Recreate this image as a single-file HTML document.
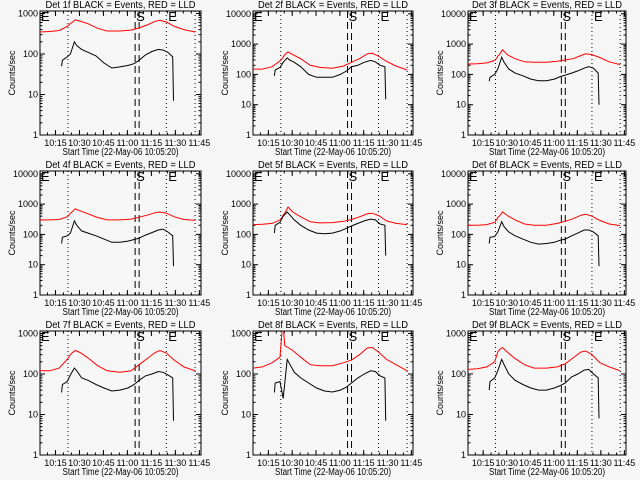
<!DOCTYPE html>
<html><head><meta charset="utf-8"><style>
html,body{margin:0;padding:0;background:#f6f6f6;}
svg{display:block;font-family:"Liberation Sans",sans-serif;}
</style></head><body>
<svg id="chart" width="640" height="480" viewBox="0 0 640 480"></svg>
<script>
const redTimes = [0,6,12,17,18.5,19,20,22,25,30,36,42,50,57,62,67,72,75,79,84,90,97];
const blackTimes = [13.5,14,17,19,21.5,23,26,30,35,40,45,50,55,59,62,66,70,74,77,80,83,83.5];
const detNames = ["1f","2f","3f","4f","5f","6f","7f","8f","9f"];
const red1 = [350,360,380,480,540,570,600,700,650,560,430,370,370,390,440,520,640,680,620,480,400,350];
const black1 = [50,70,85,100,200,160,130,110,90,60,45,48,52,58,70,95,115,130,125,110,85,7];
const red2 = [150,150,180,280,340,370,450,550,450,330,200,170,160,190,250,330,480,500,400,270,190,140];
const black2 = [90,140,170,250,350,300,250,180,100,80,80,80,100,130,180,200,250,290,260,200,180,15];
const red3 = [220,225,240,290,350,400,450,650,450,330,260,250,250,270,300,330,420,480,450,360,260,210];
const black3 = [60,80,100,150,370,250,150,110,90,70,62,62,70,85,95,110,130,160,180,160,110,10];
const red4 = [300,300,310,380,450,500,550,700,600,480,360,300,300,320,370,430,520,550,500,380,310,290];
const black4 = [50,80,90,110,280,200,130,110,90,70,55,55,60,68,75,95,115,140,150,120,90,9];
const red5 = [210,215,230,300,380,430,500,800,550,380,260,240,245,270,310,380,480,500,420,280,230,210];
const black5 = [110,200,250,400,550,450,300,200,140,110,105,110,130,160,190,230,280,320,300,220,200,20];
const red6 = [200,200,210,250,320,360,400,550,420,300,220,200,200,230,270,330,430,460,400,290,220,195];
const black6 = [50,80,85,120,260,180,120,90,70,55,48,50,55,65,70,90,110,140,140,120,90,9];
const red7 = [120,120,140,230,280,300,330,380,340,250,160,120,110,120,170,240,340,380,330,220,150,120];
const black7 = [35,55,65,95,140,120,80,70,55,45,38,40,45,55,70,90,100,115,110,95,80,7];
const red8 = [140,150,190,260,1500,1500,500,450,380,260,170,160,160,190,220,300,440,450,350,230,170,120];
const black8 = [35,60,65,25,230,180,110,80,60,45,38,36,40,48,60,80,100,120,115,90,80,7];
const red9 = [130,135,150,200,300,350,400,450,350,240,170,140,140,150,180,250,350,370,300,190,150,120];
const black9 = [40,65,80,120,230,170,100,70,55,45,40,40,45,52,60,85,100,125,130,100,80,8];
const redSeries = [red1,red2,red3,red4,red5,red6,red7,red8,red9];
const blackSeries = [black1,black2,black3,black4,black5,black6,black7,black8,black9];
const dottedTimes = [17.5,79,97];
const dashedTimes = [59.5,62];
const tickTimes = [9.67,24.67,39.67,54.67,69.67,84.67,99.67];
const tickLabels = ["10:15","10:30","10:45","11:00","11:15","11:30","11:45"];
const decadesByPanel = [3,4,4,4,4,4,3,3,3];

const NS="http://www.w3.org/2000/svg";
const svg=document.getElementById('chart');
function mk(tag,attrs,parent){const e=document.createElementNS(NS,tag);for(const k in attrs)e.setAttribute(k,attrs[k]);(parent||svg).appendChild(e);return e;}
const colX=[40,253,468], colW=[161,160,158], rowY=[11,171,331], BH=124;

for(let p=0;p<9;p++){
  const c=p%3,r=Math.floor(p/3);
  const L=colX[c],W=colW[c],T=rowY[r],B=T+BH;
  const dec=decadesByPanel[p];
  const pxDec = dec===3?40.5:30.3;
  const g=mk('g',{});
  
  
  const xs=t=>L+(t/100.7)*W;
  const ys=v=>B-Math.log10(Math.max(v,1))*pxDec;
  const clipId='clip'+p;
  const cp=mk('clipPath',{id:clipId},g);mk('rect',{x:L,y:T,width:W,height:BH},cp);
  const tt=mk('text',{x:L+W/2,y:T-3,'font-size':10.5,'text-anchor':'middle',textLength:150,lengthAdjust:'spacingAndGlyphs'},g);
  tt.textContent='Det '+detNames[p]+' BLACK = Events, RED = LLD';
  
  
  const box=mk('rect',{x:L,y:T,width:W,height:BH,fill:'none',stroke:'#000','stroke-width':1},g);
  
  
  for(let d=0;d<=dec;d++){
    const y=ys(Math.pow(10,d));
    mk('line',{x1:L,x2:L+5,y1:y,y2:y,stroke:'#000'},g);
    mk('line',{x1:L+W-5,x2:L+W,y1:y,y2:y,stroke:'#000'},g);
    const lb=mk('text',{x:L-2,y:y+3,'font-size':9,'text-anchor':'end'},g);
    lb.textContent=String(Math.pow(10,d));
    
    
    for(let m=2;m<10;m++){const ym=ys(m*Math.pow(10,d));if(ym<T)break;
      mk('line',{x1:L,x2:L+2.5,y1:ym,y2:ym,stroke:'#000'},g);
      mk('line',{x1:L+W-2.5,x2:L+W,y1:ym,y2:ym,stroke:'#000'},g);}
  }
  for(let t=4.67;t<100.7;t+=5){const x=xs(t);
    mk('line',{x1:x,x2:x,y1:B,y2:B-2.5,stroke:'#000'},g);mk('line',{x1:x,x2:x,y1:T,y2:T+2.5,stroke:'#000'},g);}
  tickTimes.forEach((t,i)=>{const x=xs(t);
    mk('line',{x1:x,x2:x,y1:B,y2:B-5,stroke:'#000'},g);mk('line',{x1:x,x2:x,y1:T,y2:T+5,stroke:'#000'},g);
    const lb=mk('text',{x:x,y:B+11,'font-size':9,'text-anchor':'middle'},g);
    lb.textContent=tickLabels[i];
    
    });
  const xl=mk('text',{x:L+W/2,y:B+20,'font-size':10,'text-anchor':'middle',textLength:116,lengthAdjust:'spacingAndGlyphs'},g);
  xl.textContent='Start Time (22-May-06 10:05:20)';
  
  
  const yl=mk('text',{x:0,y:0,'font-size':9,'text-anchor':'middle',transform:`translate(${L-25},${T+62}) rotate(-90)`},g);
  yl.textContent='Counts/sec';
  
  
  dottedTimes.forEach(t=>{const x=xs(t);const l=mk('line',{x1:x,x2:x,y1:T,y2:B,stroke:'#000','stroke-dasharray':'1,3'},g);
    
    });
  dashedTimes.forEach(t=>{const x=xs(t);const l=mk('line',{x1:x,x2:x,y1:T,y2:B,stroke:'#000','stroke-dasharray':'7,4'},g);
    
    });
  [[L+1,'E'],[xs(dashedTimes[0])+1,'S'],[xs(dottedTimes[1])+2,'E']].forEach(a=>{
    const e=mk('text',{x:a[0],y:T+10,'font-size':13},g);e.textContent=a[1];
    
    });
  const rd=redTimes.map((t,i)=>xs(t).toFixed(1)+','+ys(redSeries[p][i]).toFixed(1)).join(' ');
  const rl=mk('polyline',{points:rd,fill:'none',stroke:'#ff0000','stroke-width':1,'clip-path':`url(#${clipId})`},g);
  
  
  const bd=blackTimes.map((t,i)=>xs(t).toFixed(1)+','+ys(blackSeries[p][i]).toFixed(1)).join(' ');
  const bl=mk('polyline',{points:bd,fill:'none',stroke:'#000','stroke-width':1,'clip-path':`url(#${clipId})`},g);
  
  
}
</script>
</body></html>
